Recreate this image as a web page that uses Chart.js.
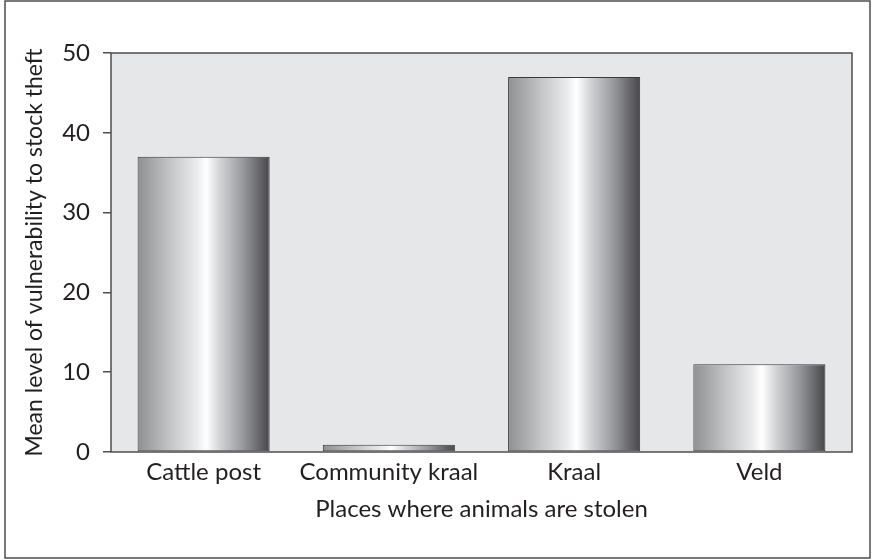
<!DOCTYPE html>
<html lang="en">
<head>
  <meta charset="UTF-8">
  <title>Places where animals are stolen</title>
  <script src="https://cdn.jsdelivr.net/npm/chart.js"></script>
  <style>
    html, body { margin: 0; padding: 0; background: #fff; }
    #wrap { width: 874px; height: 560px; position: relative; }
  </style>
</head>
<body>
  <div id="wrap"><canvas id="myChart"></canvas></div>

  <script>
    // data
    const places = ['Cattle post', 'Community kraal', 'Kraal', 'Veld'];
    const meanVulnerability = [37, 0.9, 47, 11];
    const yTicks = [0, 10, 20, 30, 40, 50];

    const ink = '#231f20';
    const fontFamily = 'Lato, "Noto Sans", sans-serif';
    const barPct = 0.713;

    // gray panel behind the bars + outer frame
    const framePlugin = {
      id: 'frame',
      beforeDraw(chart) {
        const c = chart.ctx;
        const a = chart.chartArea;
        c.save();
        c.fillStyle = '#fff';
        c.fillRect(0, 0, chart.width, chart.height);
        c.strokeStyle = '#4d4d4f';
        c.lineWidth = 1.5;
        c.strokeRect(5, 1, 865, 557);
        c.fillStyle = '#e6e7e8';
        c.fillRect(a.left, a.top, a.right - a.left, a.bottom - a.top);
        c.restore();
      },
      afterDraw(chart) {
        const c = chart.ctx;
        const a = chart.chartArea;
        c.save();
        c.strokeStyle = '#4d4d4f';
        c.lineWidth = 1.5;
        c.strokeRect(a.left, a.top, a.right - a.left, a.bottom - a.top);
        c.restore();
      }
    };

    // cylinder shading across each bar
    function barGradient(context) {
      const chart = context.chart;
      const xs = chart.scales.x;
      if (!xs || xs.width === undefined) return '#ccc';
      const center = xs.getPixelForValue(context.dataIndex);
      const half = (xs.width / places.length) * barPct / 2;
      const g = chart.ctx.createLinearGradient(center - half, 0, center + half, 0);
      g.addColorStop(0, '#8f9092');
      g.addColorStop(0.25, '#c4c5c7');
      g.addColorStop(0.45, '#ebeced');
      g.addColorStop(0.52, '#ffffff');
      g.addColorStop(0.62, '#d4d5d7');
      g.addColorStop(0.8, '#97989c');
      g.addColorStop(1, '#47474a');
      return g;
    }

    const ctx = document.getElementById('myChart').getContext('2d');
    const myChart = new Chart(ctx, {
      type: 'bar',
      data: {
        labels: places,
        datasets: [{
          data: meanVulnerability,
          backgroundColor: barGradient,
          borderColor: '#3a3a3c',
          borderWidth: 1,
          borderSkipped: false,
          categoryPercentage: 1,
          barPercentage: barPct,
        }],
      },
      options: {
        responsive: true,
        maintainAspectRatio: false,
        animation: false,
        layout: { padding: { left: 0, top: 53, right: 22, bottom: 32 } },
        plugins: {
          legend: { display: false },
          tooltip: { enabled: false },
        },
        scales: {
          x: {
            afterFit(scale) { scale.height = 76; },
            grid: { display: true, drawOnChartArea: false, drawTicks: false },
            border: { display: false },
            ticks: {
              color: ink,
              padding: 6,
              font: { size: 24, family: fontFamily },
            },
            title: {
              display: true,
              text: 'Places where animals are stolen',
              color: ink,
              padding: { top: 4, bottom: 4 },
              font: { size: 24, family: fontFamily },
            },
          },
          y: {
            min: 0,
            max: 50,
            afterFit(scale) { scale.width = 111; },
            afterBuildTicks(scale) { scale.ticks = yTicks.map((v) => ({ value: v })); },
            grid: { drawOnChartArea: false, drawTicks: true, tickLength: 8, color: '#4d4d4f', lineWidth: 1.5 },
            border: { display: false },
            ticks: {
              color: ink,
              padding: 13,
              font: { size: 24, family: fontFamily },
            },
            title: {
              display: true,
              text: 'Mean level of vulnerability to stock theft',
              color: ink,
              padding: { top: 21, bottom: 0 },
              font: { size: 23, family: fontFamily },
            },
          },
        },
      },
      plugins: [framePlugin],
    });
  </script>
</body>
</html>
